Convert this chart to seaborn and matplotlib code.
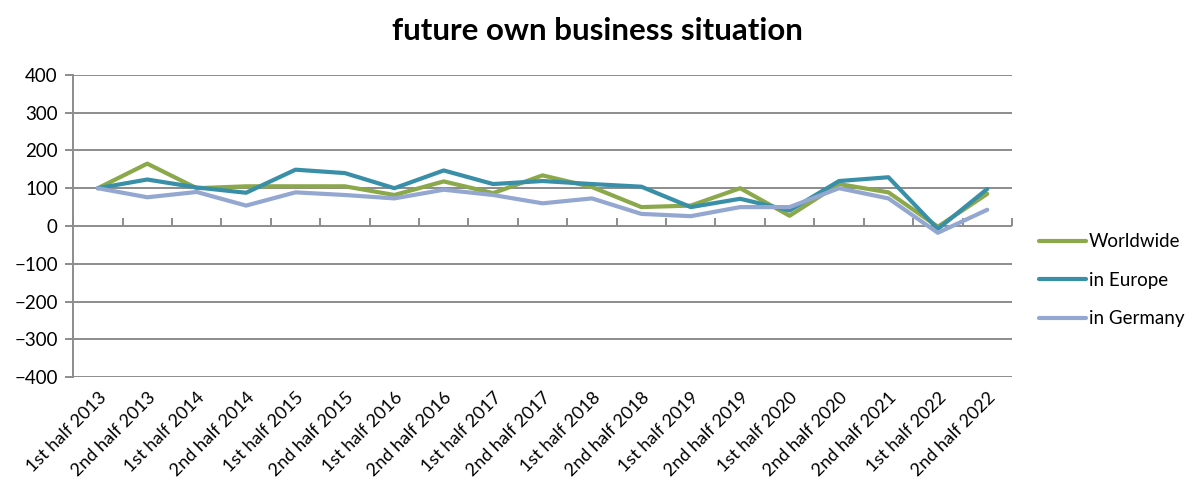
import matplotlib
matplotlib.use("Agg")
import matplotlib.pyplot as plt
import seaborn as sns
import pandas as pd
import numpy as np

periods = ["1st half 2013", "2nd half 2013", "1st half 2014", "2nd half 2014",
           "1st half 2015", "2nd half 2015", "1st half 2016", "2nd half 2016",
           "1st half 2017", "2nd half 2017", "1st half 2018", "2nd half 2018",
           "1st half 2019", "2nd half 2019", "1st half 2020", "2nd half 2020",
           "2nd half 2021", "1st half 2022", "2nd half 2022"]
worldwide = [100, 165, 100, 105, 105, 105, 82, 118, 87, 134, 103, 50, 54, 100, 27, 111, 89, -2, 85]
europe = [100, 123, 102, 88, 149, 140, 100, 147, 111, 119, 111, 104, 50, 72, 41, 119, 129, -8, 98]
germany = [100, 76, 90, 54, 89, 82, 73, 96, 82, 60, 73, 32, 26, 50, 50, 100, 73, -18, 43]
series_names = ["Worldwide", "in Europe", "in Germany"]
colors = ["#8BA84A", "#3A8FA8", "#93A7D1"]

df = pd.concat([
    pd.DataFrame({"period": periods, "value": vals, "series": name})
    for name, vals in zip(series_names, [worldwide, europe, germany])
], ignore_index=True)

sns.set_style("white")
plt.rcParams["font.family"] = ["Lato", "DejaVu Sans"]
plt.rcParams["text.color"] = "black"
plt.rcParams["xtick.color"] = "black"
plt.rcParams["ytick.color"] = "black"

fig = plt.figure(figsize=(11.99, 4.86), dpi=100)
ax = fig.add_axes([0.061, 0.224, 0.783, 0.622])

sns.lineplot(data=df, x="period", y="value", hue="series", palette=colors,
             hue_order=series_names, sort=False, linewidth=3.0, ax=ax, legend=True)

grid_c = "#8C8C8C"
ax.set_ylim(-400, 400)
ax.set_yticks(np.arange(-400, 401, 100))
ax.set_xlim(-0.5, len(periods) - 0.5)
for yv in np.arange(-400, 401, 100):
    ax.axhline(yv, color=grid_c, linewidth=1.4, zorder=0)

for s in ["top", "right", "bottom"]:
    ax.spines[s].set_visible(False)
ax.spines["left"].set_color(grid_c)
ax.spines["left"].set_linewidth(1.4)

ax.tick_params(axis="y", direction="out", length=6, width=1.4, color=grid_c,
               labelcolor="black", labelsize=13.5, pad=5, left=True)
ax.set_xticks(range(len(periods)))
ax.set_xticklabels(periods, rotation=45, ha="right", rotation_mode="anchor", fontsize=13)
ax.tick_params(axis="x", length=0, pad=9, labelcolor="black")
ax.set_xlabel("")
ax.set_ylabel("")

# category axis crossing at zero with boundary tick marks
sec = ax.secondary_xaxis(0.5)
sec.set_xticks(np.arange(-0.5, len(periods), 1.0))
sec.set_xticklabels([])
sec.tick_params(axis="x", direction="out", length=6, width=1.4, color=grid_c)
for sp in sec.spines.values():
    sp.set_visible(False)

fig.suptitle("future own business situation", fontsize=22.5, fontweight="bold",
             x=0.498, y=0.965, color="black")

handles, labels = ax.get_legend_handles_labels()
ax.legend(handles, labels, loc="center left", bbox_to_anchor=(1.011, 0.32),
          frameon=False, fontsize=13.5, handlelength=2.5, handletextpad=0.15,
          labelspacing=1.15)

fig.savefig("out.png", dpi=100)
